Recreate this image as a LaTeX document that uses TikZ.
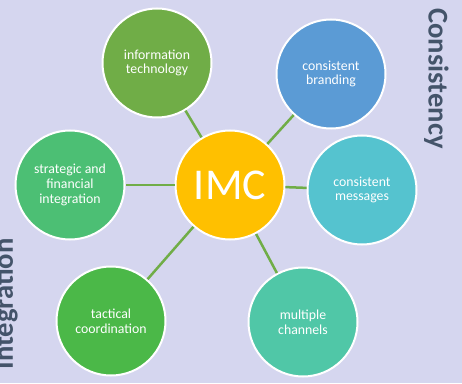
\documentclass[tikz,border=0pt]{standalone}
\usepackage{fontspec}
\setsansfont{Carlito}
\usetikzlibrary{positioning}
\definecolor{backdrop}{HTML}{D5D6EF}
\definecolor{slate}{HTML}{44546A}
\definecolor{spokegreen}{HTML}{70AD47}
\definecolor{imcgold}{HTML}{FFC000}
\definecolor{itgreen}{HTML}{70AD47}
\definecolor{brandblue}{HTML}{5B9BD5}
\definecolor{msgteal}{HTML}{55C3CF}
\definecolor{chanmint}{HTML}{50C7A7}
\definecolor{tactgreen}{HTML}{4BB848}
\definecolor{stratgreen}{HTML}{4CBF74}

\begin{document}
\begin{tikzpicture}[x=1pt,y=1pt,font=\sffamily,
  bubble/.style={circle,draw=white,line width=2pt,minimum size=109pt,
    inner sep=0pt,text=white,align=center,
    font=\sffamily\fontsize{13.8}{14.7}\selectfont},
  spoke/.style={spokegreen,line width=2.5pt},
  sidelabel/.style={text=slate,anchor=base,
    font=\sffamily\bfseries\fontsize{28.6}{32}\selectfont}]
  \useasboundingbox (0,0) rectangle (462,383);
  \fill[backdrop] (0,0) rectangle (462,383);

  % hub and the six ideas around it
  \node[bubble,fill=imcgold,font=\sffamily\fontsize{44}{48}\selectfont] (imc) at (230,198) {IMC};
  \node[bubble,fill=itgreen] (it) at (157,320) {information\\technology};
  \node[bubble,fill=brandblue] (brand) at (331,309) {consistent\\branding};
  \node[bubble,fill=msgteal] (msg) at (362,193) {consistent\\messages};
  \node[bubble,fill=chanmint] (chan) at (303,61) {multiple\\channels};
  \node[bubble,fill=tactgreen] (tact) at (111,62) {tactical\\coordination};
  \node[bubble,fill=stratgreen] (strat) at (70,198) {strategic and\\financial\\integration};

  \foreach \n in {it,brand,msg,chan,tact,strat}
    \draw[spoke] (imc) -- (\n);

  \node[sidelabel,rotate=-90] (cons) at (428.5,304.5) {Consistency};
  \node[sidelabel,rotate=90] (integ) at (13,79) {Integration};
\end{tikzpicture}
\end{document}
